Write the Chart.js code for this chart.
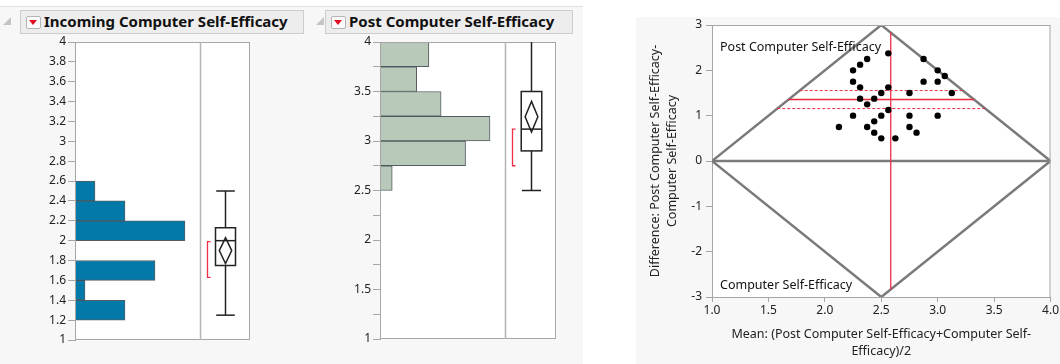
<!DOCTYPE html>
<html>
<head>
<meta charset="utf-8">
<script src="https://cdn.jsdelivr.net/npm/chart.js@4.4.1/dist/chart.umd.min.js"></script>
<style>
body { margin:0; width:1060px; height:364px; position:relative; overflow:hidden; background:#fff; font-family:"Noto Sans", sans-serif; }
.bg { position:absolute; background:#f7f7f7; }
.head { position:absolute; top:10px; height:24px; background:#ededed; border:1px solid #cdcdcd; box-sizing:border-box; font-weight:bold; font-size:15px; line-height:21px; color:#111; }
.icon { position:absolute; left:5px; top:5px; width:15px; height:13px; background:#fbfbfb; border:1px solid #b5b5b5; box-sizing:border-box; border-radius:2px; }
.icon:after { content:""; position:absolute; left:2px; top:3px; border-left:4.5px solid transparent; border-right:4.5px solid transparent; border-top:5px solid #e01020; }
.ttl { position:absolute; left:23px; top:0; white-space:nowrap; }
.tri { position:absolute; top:17px; width:0; height:0; border-left:8px solid transparent; border-bottom:8px solid #c4c4c4; }
canvas { position:absolute; }
</style>
</head>
<body>
<div class="bg" style="left:0;top:6px;width:583px;height:358px;border-top:1px solid #e2e2e2;"></div>
<div class="bg" style="left:636px;top:17px;width:424px;height:347px;"></div>

<div class="tri" style="left:3px;"></div>
<div class="head" style="left:20px;width:284px;"><div class="icon"></div><div class="ttl">Incoming Computer Self-Efficacy</div></div>
<div class="tri" style="left:316px;"></div>
<div class="head" style="left:325px;width:248px;"><div class="icon"></div><div class="ttl">Post Computer Self-Efficacy</div></div>

<canvas id="incoming" width="262" height="320" style="left:0;top:30px;"></canvas>
<canvas id="post" width="268" height="320" style="left:300px;top:30px;"></canvas>
<canvas id="diff" width="424" height="354" style="left:636px;top:10px;"></canvas>

<script>
// histogram bins (lower edges) and counts
const incomingBinStart = [1.2, 1.4, 1.6, 1.8, 2.0, 2.2, 2.4];
const incomingCounts   = [5, 1, 8, 0, 11, 5, 2];
const postBinStart = [2.5, 2.75, 3.0, 3.25, 3.5, 3.75];
const postCounts   = [1, 7, 9, 5, 3, 4];

// box plots: min, q1, median, q3, max
const incomingBox = [1.25, 1.75, 2.0, 2.13, 2.5];
const incomingMeanCI = [1.77, 1.9, 2.03];
const incomingShortest = [1.63, 1.99];
const postBox = [2.5, 2.9, 3.12, 3.5, 4.0];
const postMeanCI = [3.09, 3.245, 3.40];
const postShortest = [2.75, 3.12];

// difference vs mean points
const meanX = [2.125, 2.25, 2.25, 2.25, 2.3125, 2.3125, 2.3125, 2.375, 2.375, 2.375,
               2.4375, 2.4375, 2.4375, 2.5, 2.5, 2.5, 2.5625, 2.5625, 2.5625, 2.625,
               2.75, 2.75, 2.75, 2.8125, 2.875, 2.875, 3.0, 3.0, 3.0, 3.0625, 3.125];
const diffY = [0.75, 2.0, 1.75, 1.0, 2.125, 1.625, 1.375, 2.25, 1.25, 0.75,
               1.375, 0.875, 0.625, 1.5, 1.0, 0.5, 2.375, 1.625, 1.125, 0.5,
               1.5, 1.0, 0.75, 0.625, 2.25, 1.75, 2.0, 1.75, 1.0, 1.875, 1.5];
const meanDiff = [1.157, 1.355, 1.554]; // lower CI, mean, upper CI
const overallMean = 2.584;
const diamond = [[1, 0], [2.5, 3], [4, 0], [2.5, -3], [1, 0]];
const xTicks = [1, 1.5, 2, 2.5, 3, 3.5, 4];

const FONT = '"Noto Sans", sans-serif';
const AXIS = '#a6a6a6';
const RED = '#ee2f45';

function seg(ctx, x1, y1, x2, y2) {
  ctx.beginPath(); ctx.moveTo(x1, y1); ctx.lineTo(x2, y2); ctx.stroke();
}

const boxPlot = {
  id: 'boxPlot',
  beforeDraw(chart) {
    const { ctx, chartArea: a } = chart;
    ctx.save(); ctx.fillStyle = '#fff'; ctx.fillRect(a.left, a.top, a.width, a.height); ctx.restore();
  },
  afterDraw(chart, args, o) {
    const { ctx, chartArea: a, scales: { x, y } } = chart;
    const py = v => y.getPixelForValue(v);
    ctx.save();
    ctx.strokeStyle = AXIS; ctx.lineWidth = 1;
    ctx.strokeRect(a.left + 0.5, a.top + 0.5, a.width - 1, a.height - 1);
    const dx = Math.round(x.getPixelForValue(o.divider)) + 0.5;
    ctx.lineWidth = 1.5; ctx.strokeStyle = '#b4b4b4';
    seg(ctx, dx, a.top, dx, a.bottom);

    const [lo, q1, md, q3, hi] = o.box;
    const cx = Math.round(x.getPixelForValue(o.center)) + 0.5;
    const bw = x.getPixelForValue(o.center + o.half) - x.getPixelForValue(o.center);
    const dw = bw * 0.62;
    ctx.strokeStyle = '#222'; ctx.lineWidth = 1.5;
    seg(ctx, cx, py(hi), cx, py(q3));
    seg(ctx, cx, py(q1), cx, py(lo));
    seg(ctx, cx - bw * 0.93, py(lo), cx + bw * 0.93, py(lo));
    if (hi < y.max) seg(ctx, cx - bw * 0.93, py(hi), cx + bw * 0.93, py(hi));
    ctx.strokeRect(cx - bw, py(q3), bw * 2, py(q1) - py(q3));
    seg(ctx, cx - bw, py(md), cx + bw, py(md));
    ctx.beginPath();
    ctx.moveTo(cx, py(o.ci[2])); ctx.lineTo(cx + dw, py(o.ci[1]));
    ctx.lineTo(cx, py(o.ci[0])); ctx.lineTo(cx - dw, py(o.ci[1])); ctx.closePath();
    ctx.stroke();

    const bx = Math.round(x.getPixelForValue(o.bracket)) + 0.5;
    ctx.strokeStyle = RED; ctx.lineWidth = 1.3;
    ctx.beginPath();
    ctx.moveTo(bx + 3, py(o.shortest[1])); ctx.lineTo(bx, py(o.shortest[1]));
    ctx.lineTo(bx, py(o.shortest[0])); ctx.lineTo(bx + 3, py(o.shortest[0]));
    ctx.stroke();
    ctx.restore();
  }
};

function histChart(id, starts, counts, width, color, yOpts, box) {
  return new Chart(document.getElementById(id).getContext('2d'), {
    type: 'bar',
    data: {
      datasets: [{
        data: starts.map((s, i) => ({ y: s + width / 2, x: counts[i] })),
        backgroundColor: color,
        borderColor: 'rgba(55,65,70,0.85)',
        borderWidth: 1,
        borderSkipped: false,
        barPercentage: 1,
        categoryPercentage: 1
      }]
    },
    options: {
      indexAxis: 'y',
      responsive: false,
      animation: false,
      layout: { padding: yOpts.padding },
      plugins: { legend: { display: false }, tooltip: { enabled: false }, boxPlot: box },
      scales: {
        x: { type: 'linear', min: 0, max: box.xmax, display: false },
        y: {
          type: 'linear', min: 1, max: 4, offset: false,
          afterFit: s => { s.width = yOpts.axisWidth; },
          grid: { drawOnChartArea: false, offset: false, tickLength: 7, color: AXIS },
          border: { color: AXIS },
          ticks: {
            stepSize: yOpts.step, autoSkip: false, padding: 2,
            color: '#222', font: { family: FONT, size: 12 },
            callback: yOpts.label
          }
        }
      }
    },
    plugins: [boxPlot]
  });
}

histChart('incoming', incomingBinStart, incomingCounts, 0.2, '#0379a9',
  { padding: { top: 12, bottom: 10, right: 12, left: 0 }, axisWidth: 75, step: 0.2,
    label: v => String(Math.round(v * 10) / 10) },
  { xmax: 17.5, divider: 12.5, center: 15, half: 1, bracket: 13.17,
    box: incomingBox, ci: incomingMeanCI, shortest: incomingShortest });

histChart('post', postBinStart, postCounts, 0.25, '#b9c9b9',
  { padding: { top: 12, bottom: 11, right: 12, left: 0 }, axisWidth: 80, step: 0.25,
    label: v => (Math.abs(v * 2 - Math.round(v * 2)) < 1e-6 ? String(Math.round(v * 10) / 10) : '') },
  { xmax: 14.4, divider: 10.22, center: 12.33, half: 0.84, bracket: 10.8,
    box: postBox, ci: postMeanCI, shortest: postShortest });

// ---- difference plot ----
const edgeX = yv => [1 + Math.abs(yv) / 2, 4 - Math.abs(yv) / 2];
const topY = 3 - 2 * Math.abs(overallMean - 2.5);

const diffDecor = {
  id: 'diffDecor',
  beforeDraw(chart) {
    const { ctx, chartArea: a } = chart;
    ctx.save(); ctx.fillStyle = '#fff'; ctx.fillRect(a.left, a.top, a.width, a.height); ctx.restore();
  },
  afterDraw(chart) {
    const { ctx, chartArea: a } = chart;
    ctx.save();
    ctx.strokeStyle = AXIS; ctx.lineWidth = 1;
    seg(ctx, a.left, a.top + 0.5, a.right, a.top + 0.5);
    seg(ctx, a.right - 0.5, a.top, a.right - 0.5, a.bottom);
    ctx.fillStyle = '#111';
    ctx.font = '12.5px ' + FONT;
    ctx.textBaseline = 'middle';
    ctx.fillText('Post Computer Self-Efficacy', a.left + 8, a.top + 22);
    ctx.fillText('Computer Self-Efficacy', a.left + 8, a.bottom - 12);
    ctx.restore();
  }
};

const lineSet = (pts, color, width, dash) => ({
  type: 'line', data: pts.map(p => ({ x: p[0], y: p[1] })),
  borderColor: color, backgroundColor: color, borderWidth: width, borderDash: dash || [],
  pointRadius: 0, fill: false, tension: 0
});

const meanLine = edgeX(meanDiff[1]);

new Chart(document.getElementById('diff').getContext('2d'), {
  type: 'scatter',
  data: {
    datasets: [
      { data: meanX.map((m, i) => ({ x: m, y: diffY[i] })), backgroundColor: '#000',
        pointRadius: 3.2, pointBorderWidth: 0 },
      lineSet([[overallMean, -topY], [overallMean, topY]], RED, 1.3),
      lineSet([[meanLine[0], meanDiff[1]], [overallMean, meanDiff[1]], [meanLine[1], meanDiff[1]]], '#f0283c', 1.6),
      lineSet([[edgeX(meanDiff[0])[0], meanDiff[0]], [edgeX(meanDiff[0])[1], meanDiff[0]]], RED, 1, [3, 2]),
      lineSet([[edgeX(meanDiff[2])[0], meanDiff[2]], [edgeX(meanDiff[2])[1], meanDiff[2]]], RED, 1, [3, 2]),
      lineSet(diamond, '#7b7b7b', 2.5),
      lineSet([[1, 0], [4, 0]], '#7b7b7b', 2.5)
    ]
  },
  options: {
    responsive: false,
    animation: false,
    layout: { padding: { top: 15, right: 9, bottom: 0, left: 0 } },
    plugins: { legend: { display: false }, tooltip: { enabled: false } },
    scales: {
      x: {
        type: 'linear', min: 1, max: 4,
        afterFit: s => { s.height = 67; },
        afterBuildTicks: s => { s.ticks = xTicks.map(v => ({ value: v })); },
        grid: { drawOnChartArea: false, tickLength: 5, color: AXIS },
        border: { color: AXIS },
        ticks: { padding: 1, color: '#222', font: { family: FONT, size: 12 }, callback: v => v.toFixed(1) },
        title: {
          display: true, color: '#222', font: { family: FONT, size: 12.5, lineHeight: 1.35 },
          padding: { top: 0, bottom: 4 },
          text: ['Mean: (Post Computer Self-Efficacy+Computer Self-', 'Efficacy)/2']
        }
      },
      y: {
        type: 'linear', min: -3, max: 3,
        afterFit: s => { s.width = 76; },
        grid: { drawOnChartArea: false, tickLength: 6, color: AXIS },
        border: { color: AXIS },
        ticks: { stepSize: 1, padding: 4, color: '#222', font: { family: FONT, size: 12 } },
        title: {
          display: true, color: '#222', font: { family: FONT, size: 12.5, lineHeight: 1.35 },
          padding: { top: 11, bottom: 0 },
          text: ['Difference: Post Computer Self-Efficacy-', 'Computer Self-Efficacy']
        }
      }
    }
  },
  plugins: [diffDecor]
});
</script>
</body>
</html>
